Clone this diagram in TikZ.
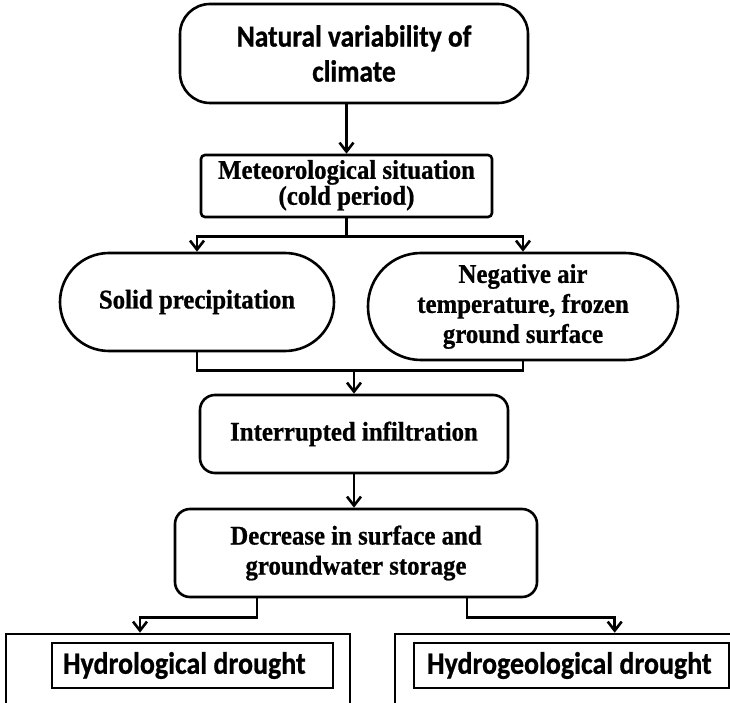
\documentclass[tikz,border=0pt]{standalone}
\usepackage{fontspec}
\setmainfont{Liberation Serif}[FakeStretch=0.92,BoldFeatures={FakeBold=0.8}]
\newfontfamily\calfont{Carlito}[FakeStretch=0.9,BoldFeatures={FakeBold=0.8}]
\usetikzlibrary{arrows.meta,calc}

\begin{document}
\begin{tikzpicture}[x=1pt,y=-1pt,
		box/.style={draw,line width=2.6pt,align=center,inner sep=0pt,font=\bfseries\fontsize{27}{30}\selectfont},
		tag/.style={draw,line width=1.4pt,inner ysep=0pt,font=\calfont\bfseries\fontsize{31}{32}\selectfont},
		arr/.style={line width=2.6pt,-{Straight Barb[length=9pt,width=14pt]}},
		link/.style={line width=2.6pt}]
		%%%%% START %%%%%
		\useasboundingbox (0,0) rectangle (730,703);
		\clip (0,0) rectangle (730,703);
		
		\node[box,rounded corners=30pt,minimum width=348pt,minimum height=99pt,font=\calfont\bfseries\fontsize{30.5}{35}\selectfont] (nat) at (354,53.5) {Natural variability of\\climate};
		\node[box,rounded corners=4pt,minimum width=291pt,minimum height=62pt,font=\bfseries\fontsize{27}{24}\selectfont] (met) at (346.5,186) {\raisebox{-3pt}{\begin{tabular}{@{}c@{}}Meteorological situation\\(cold period)\end{tabular}}};
		
		\node[box,rounded corners=49pt,minimum width=274pt,minimum height=98pt] (solid) at (197,302) {Solid precipitation};
		\node[box,rounded corners=53pt,minimum width=310pt,minimum height=107pt] (neg) at (523,306.5) {Negative air\\temperature, frozen\\ground surface};
		
		\node[box,rounded corners=15pt,minimum width=308pt,minimum height=78pt] (inf) at (354,434) {Interrupted infiltration};
		\node[box,rounded corners=15pt,minimum width=362pt,minimum height=88pt] (dec) at (356,553) {Decrease in surface and\\groundwater storage};
		
		\node[box,minimum width=344pt,minimum height=86pt] (hydbox) at (178,677) {};
		\node[box,minimum width=350pt,minimum height=86pt] (geobox) at (570,677) {};
		\node[tag,inner xsep=11pt,minimum height=45pt] (hyd) at (192.5,665.5) {\makebox[259pt][l]{Hydrological drought}};
		\node[tag,inner xsep=13pt,minimum height=45pt] (geo) at (571.5,665.5) {\makebox[289pt][l]{Hydrogeological drought}};
		
		% connectors
		\draw[arr] (met.north |- nat.south) -- (met.north);
		\coordinate (split) at ($(met.south)+(0,18)$);
		\draw[link] (met.south) -- (split);
		\draw[arr] (split) -| (solid.north);
		\draw[arr] (split) -| (neg.north);
		
		\coordinate (merge) at ($(solid.south)+(0,18)$);
		\draw[link] (solid.south) -- (merge) -| (neg.south);
		\draw[arr] (inf.north |- merge) -- (inf.north);
		\draw[arr] (inf.south) -- (inf.south |- dec.north);
		
		\draw[arr] ($(dec.south)+(-99,0)$) -- ++(0,19) -| ($(hydbox.north)+(-38,0)$);
		\draw[arr] ($(dec.south)+(111,0)$) -- ++(0,19) -| ($(geobox.north west)+(221,0)$);
		%%%%% END %%%%%
	\end{tikzpicture}
\end{document}
